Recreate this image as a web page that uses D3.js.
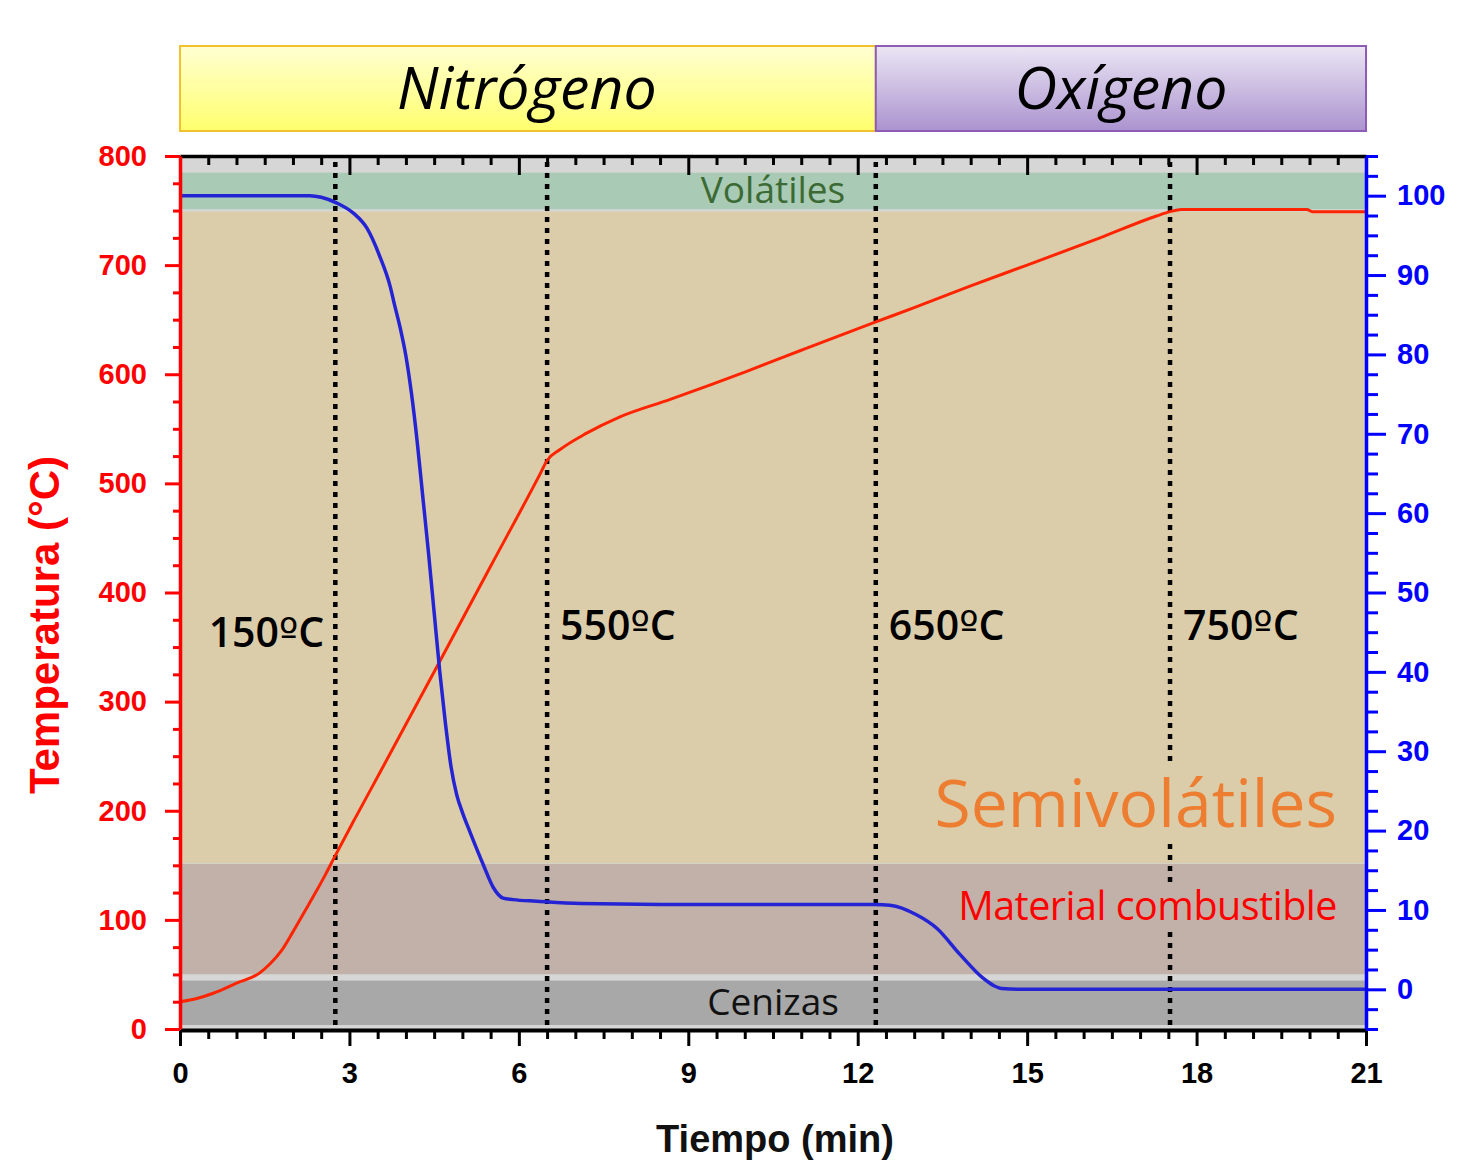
<!DOCTYPE html>
<html lang="es">
<head>
<meta charset="UTF-8">
<title>Temperatura y pérdida de masa</title>
<script src="https://d3js.org/d3.v7.min.js"></script>
<style>
  body { margin: 0; background: #fff; }
  .axis text { font-family: "Liberation Sans", Arial, sans-serif; font-weight: bold; font-size: 29px; }
  .lbl { font-family: "Open Sans", sans-serif; }
</style>
</head>
<body>
<svg width="1463" height="1161"></svg>
<script>
// temperature (red, left axis, ºC)
const tempTime = [0, 0.3, 0.6, 1.0, 1.4, 1.6, 1.8, 2.0, 2.2, 2.4, 2.57, 2.74, 3.1, 3.54, 4.57, 5.5, 6.37, 6.5, 6.73, 7.2, 7.79, 8.68, 10, 11, 12.32, 13, 14, 15, 16.29, 17.29, 17.53, 17.73, 19.95, 20.05, 21];
const tempVal  = [25, 28, 33, 42, 51, 60, 72, 89, 107, 125, 141, 158, 193, 235, 334, 424, 508, 521, 531, 546, 561, 577, 602, 622, 648, 661, 681, 700, 725, 745, 749, 751, 751, 749, 749];

// mass (blue, right axis, %)
const massTime = [0, 2.3, 2.5, 2.77, 3.07, 3.31, 3.54, 3.72, 3.8, 3.9, 4.0, 4.1, 4.2, 4.3, 4.4, 4.5, 4.6, 4.7, 4.8, 4.9, 5.0, 5.13, 5.37, 5.55, 5.72, 5.9, 6.31, 7.09, 8.5, 12.3, 12.57, 13.04, 13.4, 13.81, 14.22, 14.4, 14.55, 15, 21];
const massVal  = [100, 100, 99.8, 99.1, 97.8, 95.9, 92.3, 88.6, 86.2, 83.3, 79.8, 75, 69, 62, 55, 47.5, 40, 33.5, 28, 24.5, 22.3, 19.9, 15.7, 12.8, 11.5, 11.3, 11.1, 10.8, 10.7, 10.7, 10.6, 9.4, 7.7, 4.4, 1.4, 0.5, 0.1, 0, 0];

// atmosphere phases (header)
const phaseNames = ["Nitrógeno", "Oxígeno"];
const phaseStart = [0, 12.32];
const phaseEnd   = [12.32, 21];

// fraction bands, in mass %
const bandNames  = ["Volátiles", "Semivolátiles", "Material combustible", "Cenizas"];
const bandTop    = [102.9, 98.0, 15.8, 1.1];
const bandBottom = [98.3, 15.9, 1.9, -4.5];
const bandColors = ["#a9cab5", "#dccdaa", "#c1b1a8", "#a8a8a8"];

// dotted markers
const markerTime  = [2.75, 6.5, 12.32, 17.53];
const markerLabel = ["150", "550", "650", "750"];

const xTicks = d3.range(0, 22, 3);
const tTicks = d3.range(0, 801, 100);
const mTicks = d3.range(0, 101, 10);

const svg = d3.select("svg");
const x  = d3.scaleLinear().domain([0, 21]).range([180, 1366]);
const yT = d3.scaleLinear().domain([0, 800]).range([1029, 156]);
const yM = d3.scaleLinear().domain([-5, 105]).range([1029, 156]);

// gradients for header
const defs = svg.append("defs");
const grads = [["gN", "#ffffd2", "#ffff6e"], ["gO", "#ebe6f4", "#ab93cf"]];
grads.forEach(g => {
  const lg = defs.append("linearGradient").attr("id", g[0]).attr("x1", 0).attr("y1", 0).attr("x2", 0).attr("y2", 1);
  lg.append("stop").attr("offset", "0%").attr("stop-color", g[1]);
  lg.append("stop").attr("offset", "100%").attr("stop-color", g[2]);
});

// header boxes
const phaseStroke = ["#f2c12e", "#8e5bb5"];
phaseNames.forEach((name, i) => {
  svg.append("rect")
    .attr("x", x(phaseStart[i])).attr("y", 46)
    .attr("width", x(phaseEnd[i]) - x(phaseStart[i])).attr("height", 85)
    .attr("fill", `url(#${grads[i][0]})`)
    .attr("stroke", phaseStroke[i]).attr("stroke-width", 2);
  svg.append("text").attr("class", "lbl")
    .attr("x", (x(phaseStart[i]) + x(phaseEnd[i])) / 2 + (i === 0 ? -1 : 0)).attr("y", 109)
    .attr("text-anchor", "middle")
    .style("font-size", "59px").style("font-style", "italic")
    .text(name);
});

// plot background + bands
svg.append("rect").attr("x", 180).attr("y", 156).attr("width", 1186).attr("height", 873).attr("fill", "#d6d6d6");
bandNames.forEach((b, i) => {
  svg.append("rect")
    .attr("x", 180).attr("width", 1186)
    .attr("y", yM(bandTop[i])).attr("height", yM(bandBottom[i]) - yM(bandTop[i]))
    .attr("fill", bandColors[i]);
});

// dotted lines
svg.selectAll(".marker").data(markerTime).enter().append("line")
  .attr("class", "marker")
  .attr("x1", d => x(d)).attr("x2", d => x(d))
  .attr("y1", 162).attr("y2", 1028)
  .attr("stroke", "#000").attr("stroke-width", 4.5)
  .attr("stroke-dasharray", "5,6");

const mlab = svg.selectAll(".mlabel").data(markerLabel).enter().append("text")
  .attr("class", "lbl")
  .attr("x", (d, i) => i === 0 ? x(markerTime[i]) - 11 : x(markerTime[i]) + 13)
  .attr("y", (d, i) => i === 0 ? 647 : 640)
  .attr("text-anchor", (d, i) => i === 0 ? "end" : "start")
  .style("font-size", "41px").style("font-weight", "600");
mlab.append("tspan").text(d => d);
mlab.append("tspan").style("font-family", "'DejaVu Sans', sans-serif").style("font-weight", "normal").text("º");
mlab.append("tspan").text("C");

// band labels (text boxes hide the dotted line behind them)
svg.append("rect").attr("x", 930).attr("y", 766).attr("width", 410).attr("height", 76).attr("fill", bandColors[1]);
svg.append("rect").attr("x", 955).attr("y", 883).attr("width", 385).attr("height", 44).attr("fill", bandColors[2]);

svg.append("text").attr("class", "lbl").attr("x", 773).attr("y", 203).attr("text-anchor", "middle")
  .style("font-size", "37px").attr("fill", "#3b6a34").text(bandNames[0]);
svg.append("text").attr("class", "lbl").attr("x", 1337).attr("y", 827).attr("text-anchor", "end")
  .style("font-size", "66px").attr("fill", "#ed7d31").text(bandNames[1]);
svg.append("text").attr("class", "lbl").attr("x", 1337).attr("y", 920).attr("text-anchor", "end")
  .style("font-size", "39.5px").style("letter-spacing", "-0.5px").attr("fill", "#ff0000").text(bandNames[2]);
svg.append("text").attr("class", "lbl").attr("x", 773).attr("y", 1015).attr("text-anchor", "middle")
  .style("font-size", "37px").attr("fill", "#111").text(bandNames[3]);

// curves
const tempData = tempTime.map((t, i) => [t, tempVal[i]]);
const massData = massTime.map((t, i) => [t, massVal[i]]);

svg.append("path").datum(tempData)
  .attr("fill", "none").attr("stroke", "#ff2400").attr("stroke-width", 3)
  .attr("d", d3.line().x(d => x(d[0])).y(d => yT(d[1])).curve(d3.curveMonotoneX));
svg.append("path").datum(massData)
  .attr("fill", "none").attr("stroke", "#2424d4").attr("stroke-width", 3.5)
  .attr("d", d3.line().x(d => x(d[0])).y(d => yM(d[1])).curve(d3.curveMonotoneX));

// axes
function minor(lo, hi, step, majorStep) {
  return d3.range(lo, hi + step / 2, step).filter(v => Math.abs(v / majorStep - Math.round(v / majorStep)) > 1e-6);
}

function styleAxis(g, color, width) {
  g.select(".domain").attr("stroke", color).attr("stroke-width", width);
  g.selectAll(".tick line").attr("stroke", color).attr("stroke-width", 3);
  g.selectAll("text").attr("fill", color);
}

// top (ticks inward)
const axTop = svg.append("g").attr("class", "axis").attr("transform", "translate(0,156)");
axTop.call(d3.axisBottom(x).tickValues(xTicks).tickSize(19).tickSizeOuter(0).tickFormat(""));
axTop.append("g").call(d3.axisBottom(x).tickValues(minor(0, 21, 0.5, 3)).tickSize(9).tickFormat("")).select(".domain").remove();
styleAxis(axTop, "#000", 3.5);

// bottom
const axBottom = svg.append("g").attr("class", "axis").attr("transform", "translate(0,1030)");
axBottom.call(d3.axisBottom(x).tickValues(xTicks).tickSize(16).tickSizeOuter(0).tickPadding(16));
axBottom.append("g").call(d3.axisBottom(x).tickValues(minor(0, 21, 0.5, 3)).tickSize(9).tickFormat("")).select(".domain").remove();
styleAxis(axBottom, "#000", 4);

// left
const axLeft = svg.append("g").attr("class", "axis").attr("transform", "translate(180,0)");
axLeft.call(d3.axisLeft(yT).tickValues(tTicks).tickSize(15).tickSizeOuter(0).tickPadding(18));
axLeft.append("g").call(d3.axisLeft(yT).tickValues(minor(0, 800, 25, 100)).tickSize(7).tickFormat("")).select(".domain").remove();
styleAxis(axLeft, "#ff0000", 3.5);

// right
const axRight = svg.append("g").attr("class", "axis").attr("transform", "translate(1366,0)");
axRight.call(d3.axisRight(yM).tickValues(mTicks).tickSize(20).tickSizeOuter(0).tickPadding(11));
axRight.append("g").call(d3.axisRight(yM).tickValues(minor(-5, 105, 2.5, 10)).tickSize(12).tickFormat("")).select(".domain").remove();
styleAxis(axRight, "#0000ff", 3.5);

// axis titles
svg.append("text")
  .attr("transform", "translate(59,625) rotate(-90)")
  .attr("text-anchor", "middle")
  .style("font-family", "'Liberation Sans', Arial, sans-serif").style("font-weight", "bold").style("font-size", "42px")
  .attr("fill", "#ff0000")
  .text("Temperatura (°C)");

svg.append("text")
  .attr("x", 775).attr("y", 1152)
  .attr("text-anchor", "middle")
  .style("font-family", "'Liberation Sans', Arial, sans-serif").style("font-weight", "bold").style("font-size", "38px")
  .attr("fill", "#111")
  .text("Tiempo (min)");
</script>
</body>
</html>
